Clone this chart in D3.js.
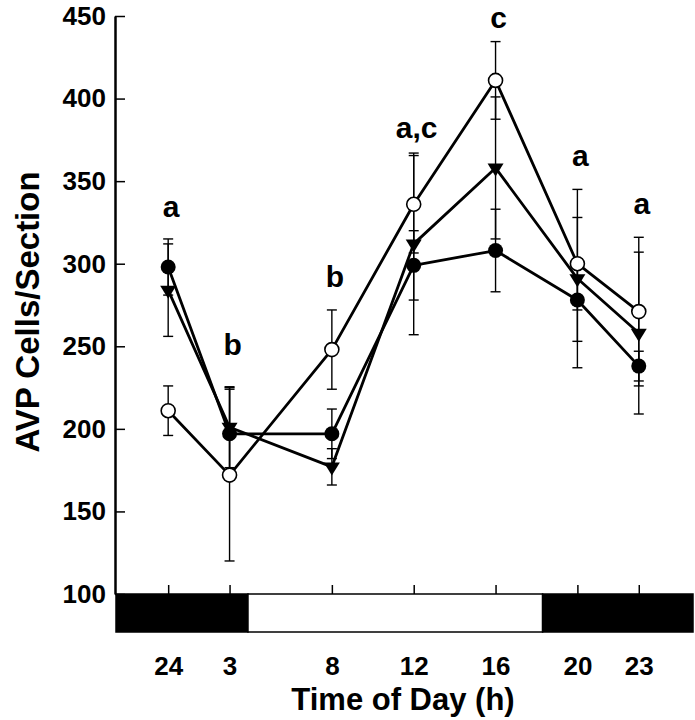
<!DOCTYPE html>
<html>
<head>
<meta charset="utf-8">
<script src="https://cdn.jsdelivr.net/npm/d3@7"></script>
<style>
    body { margin: 0; background: #fff; }
    svg { display: block; font-family: "Liberation Sans", Arial, sans-serif; }
</style>
</head>
<body>
<div id="chart"></div>
<script>
// Sampling times (hours after midnight, 24 = 0) and their labels
const hours = [0, 3, 8, 12, 16, 20, 23];
const hourLabels = ["24", "3", "8", "12", "16", "20", "23"];

// Three groups: open circles, filled circles, filled down triangles (mean, SEM)
const openMean = [211, 172, 248, 336, 411, 300, 271];
const openSem = [15, 52, 24, 29.5, 23.5, 28, 45];
const filledMean = [298, 197, 197, 299, 308, 278, 238];
const filledSem = [17, 28, 15, 21, 25, 25, 9];
const triMean = [284, 201, 177, 312, 358, 291, 258];
const triSem = [28, 24.5, 11, 55, 43, 54, 49];

// Significance letters and the level (cells/section) they sit at
const sigLetters = ["a", "b", "b", "a,c", "c", "a", "a"];
const sigLevel = [328, 245, 286, 376, 443, 359, 330];

// Light/dark bar (hours)
const lightPeriods = [
    { from: -2.55, to: 3.9, dark: true },
    { from: 3.9, to: 18.3, dark: false },
    { from: 18.3, to: 25.65, dark: true },
];

const yTicks = [100, 150, 200, 250, 300, 350, 400, 450];

const width = 695, height = 720;
const svg = d3.select("#chart").append("svg")
    .attr("width", width)
    .attr("height", height);

const x = d3.scaleLinear().domain([-2.55, 25.65]).range([116, 693]);
const y = d3.scaleLinear().domain([100, 450]).range([594, 16]);
const barH = 38;

// Light/dark bar
svg.selectAll(".ld")
    .data(lightPeriods)
    .enter()
    .append("rect")
    .attr("x", (d) => x(d.from))
    .attr("y", y(100))
    .attr("width", (d) => x(d.to) - x(d.from))
    .attr("height", barH)
    .attr("fill", (d) => (d.dark ? "#000" : "#fff"))
    .attr("stroke", "#000")
    .attr("stroke-width", 1.5);

// X ticks (pointing up from bar top)
const xTop = svg.append("g")
    .attr("transform", `translate(0,${y(100)})`)
    .call(d3.axisTop(x).tickValues(hours).tickSizeInner(9).tickSizeOuter(0).tickFormat(""));
xTop.select(".domain").remove();
xTop.selectAll("line").attr("stroke-width", 1.5);

// X tick labels below bar
const xBottom = svg.append("g")
    .attr("transform", `translate(0,${y(100) + barH})`)
    .call(d3.axisBottom(x).tickValues(hours).tickSize(0).tickPadding(25)
        .tickFormat((d, i) => hourLabels[i]));
xBottom.select(".domain").remove();
xBottom.selectAll("text")
    .attr("fill", "#000")
    .style("font-size", "26px")
    .style("font-weight", "bold");

// Y axis (ticks point into the plot)
const yAxis = svg.append("g")
    .attr("transform", "translate(115,0)")
    .call(d3.axisLeft(y).tickValues(yTicks).tickSizeInner(-10).tickSizeOuter(0).tickPadding(9));
yAxis.select(".domain").attr("stroke-width", 2.5);
yAxis.selectAll("line").attr("stroke-width", 1.5);
yAxis.selectAll("text")
    .attr("fill", "#000")
    .style("font-size", "26px")
    .style("font-weight", "bold");

// Axis titles
svg.append("text")
    .attr("transform", "translate(39,312) rotate(-90)")
    .attr("text-anchor", "middle")
    .style("font-size", "33px")
    .style("font-weight", "bold")
    .text("AVP Cells/Section");

svg.append("text")
    .attr("x", 403)
    .attr("y", 710)
    .attr("text-anchor", "middle")
    .style("font-size", "31px")
    .style("font-weight", "bold")
    .text("Time of Day (h)");

const series = [
    { name: "open", mean: openMean, sem: openSem },
    { name: "filled", mean: filledMean, sem: filledSem },
    { name: "tri", mean: triMean, sem: triSem },
];

// Error bars
const capW = 5;
series.forEach((s) => {
    const pts = hours.map((h, i) => ({ h, m: s.mean[i], e: s.sem[i] }));
    const g = svg.append("g").attr("class", "err-" + s.name)
        .attr("stroke", "#000").attr("stroke-width", 1.4);
    g.selectAll(".stem").data(pts).enter().append("line")
        .attr("x1", (d) => x(d.h)).attr("x2", (d) => x(d.h))
        .attr("y1", (d) => y(d.m - d.e)).attr("y2", (d) => y(d.m + d.e));
    [1, -1].forEach((sgn) => {
        g.selectAll(".cap" + sgn).data(pts).enter().append("line")
            .attr("x1", (d) => x(d.h) - capW).attr("x2", (d) => x(d.h) + capW)
            .attr("y1", (d) => y(d.m + sgn * d.e)).attr("y2", (d) => y(d.m + sgn * d.e));
    });
});

// Lines
const line = d3.line().x((d) => x(d[0])).y((d) => y(d[1]));
series.forEach((s) => {
    svg.append("path")
        .datum(hours.map((h, i) => [h, s.mean[i]]))
        .attr("fill", "none")
        .attr("stroke", "#000")
        .attr("stroke-width", 2.8)
        .attr("stroke-linejoin", "round")
        .attr("d", line);
});

// Markers
const triSide = 16, triHt = 13;
const triPath = `M${-triSide / 2},${-triHt / 3}L${triSide / 2},${-triHt / 3}L0,${(2 * triHt) / 3}Z`;

svg.selectAll(".tri")
    .data(hours.map((h, i) => [h, triMean[i]]))
    .enter().append("path")
    .attr("transform", (d) => `translate(${x(d[0])},${y(d[1])})`)
    .attr("d", triPath)
    .attr("fill", "#000");

svg.selectAll(".filled")
    .data(hours.map((h, i) => [h, filledMean[i]]))
    .enter().append("circle")
    .attr("cx", (d) => x(d[0])).attr("cy", (d) => y(d[1]))
    .attr("r", 7.5)
    .attr("fill", "#000");

svg.selectAll(".open")
    .data(hours.map((h, i) => [h, openMean[i]]))
    .enter().append("circle")
    .attr("cx", (d) => x(d[0])).attr("cy", (d) => y(d[1]))
    .attr("r", 7)
    .attr("fill", "#fff")
    .attr("stroke", "#000")
    .attr("stroke-width", 1.6);

// Significance letters
svg.selectAll(".sig")
    .data(hours.map((h, i) => ({ h, t: sigLetters[i], v: sigLevel[i] })))
    .enter().append("text")
    .attr("x", (d) => x(d.h) + 3)
    .attr("y", (d) => y(d.v))
    .attr("text-anchor", "middle")
    .style("font-size", "30px")
    .style("font-weight", "bold")
    .text((d) => d.t);
</script>
</body>
</html>
